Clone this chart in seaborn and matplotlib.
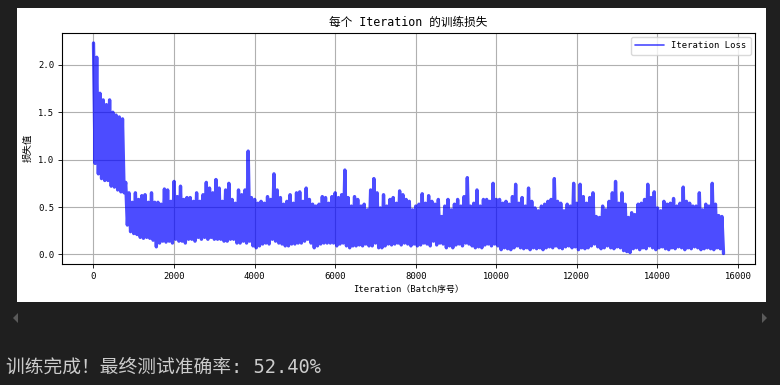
import pandas as pd
import matplotlib
matplotlib.use("Agg")
import matplotlib.pyplot as plt
from matplotlib.patches import Rectangle, Polygon
import seaborn as sns

# ----------------------------
# Data: per 80-iteration block, the top and bottom of the loss trace
# ----------------------------
BLOCK = 80
peak_loss = [
    2.23, 2.08, 1.70, 1.63, 1.58, 1.63, 1.50, 1.47, 1.45, 1.43,
    0.76, 0.65, 0.55, 0.65, 0.58, 0.62, 0.63, 0.55, 0.65, 0.55,
    0.55, 0.53, 0.69, 0.68, 0.56, 0.77, 0.61, 0.72, 0.58, 0.60,
    0.60, 0.56, 0.65, 0.56, 0.63, 0.76, 0.70, 0.65, 0.79, 0.70,
    0.56, 0.68, 0.75, 0.58, 0.54, 0.68, 0.63, 0.68, 1.09, 0.60,
    0.58, 0.54, 0.56, 0.54, 0.61, 0.58, 0.85, 0.68, 0.60, 0.53,
    0.56, 0.63, 0.54, 0.65, 0.66, 0.56, 0.70, 0.58, 0.53, 0.51,
    0.53, 0.61, 0.60, 0.54, 0.61, 0.65, 0.60, 0.63, 0.89, 0.60,
    0.51, 0.61, 0.58, 0.51, 0.53, 0.47, 0.68, 0.80, 0.65, 0.49,
    0.63, 0.51, 0.58, 0.60, 0.54, 0.67, 0.63, 0.58, 0.56, 0.47,
    0.51, 0.53, 0.64, 0.54, 0.62, 0.56, 0.53, 0.58, 0.40, 0.51,
    0.58, 0.47, 0.53, 0.58, 0.51, 0.61, 0.81, 0.51, 0.54, 0.68,
    0.51, 0.58, 0.58, 0.56, 0.75, 0.58, 0.58, 0.54, 0.56, 0.53,
    0.61, 0.74, 0.54, 0.60, 0.51, 0.70, 0.56, 0.49, 0.46, 0.51,
    0.53, 0.56, 0.58, 0.80, 0.56, 0.54, 0.46, 0.53, 0.51, 0.75,
    0.54, 0.74, 0.61, 0.54, 0.60, 0.65, 0.40, 0.39, 0.51, 0.47,
    0.56, 0.65, 0.77, 0.54, 0.65, 0.53, 0.39, 0.44, 0.42, 0.53,
    0.54, 0.58, 0.74, 0.60, 0.66, 0.49, 0.46, 0.56, 0.53, 0.54,
    0.59, 0.51, 0.54, 0.71, 0.56, 0.54, 0.51, 0.51, 0.65, 0.47,
    0.53, 0.51, 0.75, 0.53, 0.41, 0.40,
]
trough_loss = [
    0.96, 0.85, 0.80, 0.78, 0.78, 0.72, 0.71, 0.68, 0.66, 0.65,
    0.31, 0.24, 0.22, 0.21, 0.18, 0.17, 0.18, 0.17, 0.15, 0.08,
    0.12, 0.14, 0.13, 0.14, 0.12, 0.16, 0.14, 0.14, 0.12, 0.16,
    0.16, 0.14, 0.18, 0.16, 0.18, 0.16, 0.18, 0.16, 0.16, 0.16,
    0.14, 0.14, 0.16, 0.16, 0.12, 0.12, 0.14, 0.12, 0.14, 0.09,
    0.07, 0.09, 0.11, 0.12, 0.11, 0.16, 0.14, 0.12, 0.11, 0.09,
    0.09, 0.11, 0.11, 0.12, 0.12, 0.14, 0.16, 0.12, 0.07, 0.09,
    0.11, 0.12, 0.12, 0.12, 0.12, 0.09, 0.11, 0.12, 0.09, 0.07,
    0.09, 0.09, 0.10, 0.09, 0.11, 0.09, 0.09, 0.12, 0.07, 0.07,
    0.09, 0.11, 0.10, 0.11, 0.12, 0.10, 0.12, 0.11, 0.09, 0.11,
    0.09, 0.10, 0.12, 0.11, 0.09, 0.14, 0.10, 0.12, 0.11, 0.07,
    0.09, 0.07, 0.10, 0.11, 0.09, 0.12, 0.11, 0.09, 0.07, 0.08,
    0.07, 0.10, 0.11, 0.09, 0.11, 0.09, 0.05, 0.07, 0.06, 0.05,
    0.07, 0.09, 0.07, 0.06, 0.07, 0.05, 0.07, 0.06, 0.07, 0.05,
    0.07, 0.08, 0.07, 0.09, 0.07, 0.06, 0.08, 0.09, 0.07, 0.08,
    0.05, 0.07, 0.06, 0.07, 0.09, 0.11, 0.08, 0.06, 0.07, 0.09,
    0.07, 0.06, 0.08, 0.07, 0.04, 0.03, 0.02, 0.06, 0.07, 0.05,
    0.07, 0.06, 0.09, 0.07, 0.05, 0.07, 0.08, 0.06, 0.05, 0.07,
    0.06, 0.08, 0.07, 0.05, 0.07, 0.06, 0.08, 0.07, 0.05, 0.06,
    0.07, 0.06, 0.05, 0.07, 0.06, 0.01,
]
final_test_acc = 52.40

# ----------------------------
# Build the trace: block top then block bottom, in iteration order
# ----------------------------
iters, loss = [], []
for i, (hi, lo) in enumerate(zip(peak_loss, trough_loss)):
    iters += [i * BLOCK, i * BLOCK + BLOCK // 2]
    loss += [hi, lo]
df = pd.DataFrame({"iteration": iters, "loss": loss})

# ----------------------------
# Style
# ----------------------------
sns.set_theme(style="ticks", rc={
    "text.color": "black", "axes.labelcolor": "black",
    "xtick.color": "black", "ytick.color": "black",
    "axes.edgecolor": "black", "axes.linewidth": 0.8,
    "xtick.major.size": 3, "ytick.major.size": 3,
    "xtick.major.width": 0.6, "ytick.major.width": 0.6,
})
# monospaced latin + CJK fallback, close to the SimHei look of the original
plt.rcParams["font.family"] = ["DejaVu Sans Mono", "Noto Sans CJK SC"]
plt.rcParams["axes.unicode_minus"] = False

W, H = 780, 385


def fx(px):
    return px / W


def fy(py):
    return 1 - py / H


fig = plt.figure(figsize=(7.8, 3.85), dpi=100, facecolor="#1f1f1f")
# white image panel of the notebook output
fig.add_artist(Rectangle((fx(17), fy(302)), fx(766) - fx(17), fy(8) - fy(302),
                         transform=fig.transFigure, facecolor="white",
                         edgecolor="none", zorder=0))

ax = fig.add_axes([fx(62), fy(264), fx(755) - fx(62), fy(32.5) - fy(264)])
sns.lineplot(data=df, x="iteration", y="loss", color="blue", alpha=0.7,
             linewidth=2.4, estimator=None, label="Iteration Loss", ax=ax)

ax.set_xticks(range(0, 16001, 2000))
ax.set_yticks([0.0, 0.5, 1.0, 1.5, 2.0])
ax.tick_params(labelsize=6.4, pad=2.5)
ax.grid(True, color="#b0b0b0", linewidth=0.8)
ax.set_title("每个 Iteration 的训练损失", fontsize=8.4, pad=5)
ax.set_xlabel("Iteration（Batch序号）", fontsize=6.4, labelpad=3)
ax.set_ylabel("损失值", fontsize=6.8, labelpad=4)
leg = ax.legend(loc="upper right", fontsize=6.4, frameon=True, framealpha=0.8,
                edgecolor="#d0d0d0", fancybox=True, handlelength=3.2,
                borderpad=0.5)
for h in leg.get_lines():
    h.set_linewidth(1.2)

# notebook scroll arrows and the printed result line
fig.add_artist(Polygon([(fx(13), fy(318)), (fx(18), fy(313)), (fx(18), fy(323))],
                       closed=True, transform=fig.transFigure, facecolor="#5a5a5a",
                       edgecolor="none"))
fig.add_artist(Polygon([(fx(767), fy(318)), (fx(762), fy(313)), (fx(762), fy(323))],
                       closed=True, transform=fig.transFigure, facecolor="#5a5a5a",
                       edgecolor="none"))
fig.text(fx(6), fy(368), f"训练完成！最终测试准确率: {final_test_acc:.2f}%",
         color="#cccccc", fontsize=13.5, va="center", ha="left")

fig.savefig("out.png", dpi=100, facecolor=fig.get_facecolor())
